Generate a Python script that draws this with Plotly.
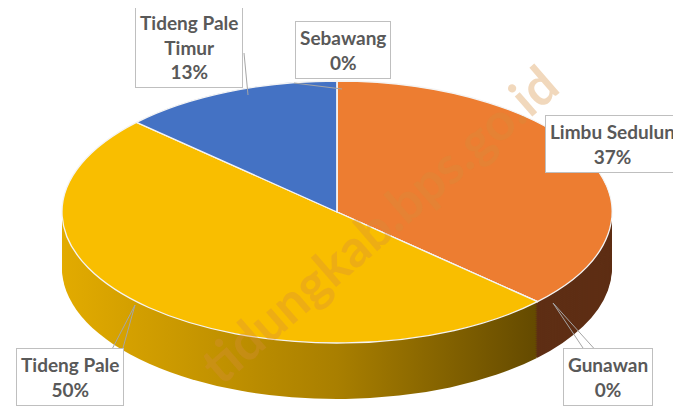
import json
import plotly.graph_objects as go

# ---- data ----
categories = ["Limbu Sedulun", "Gunawan", "Tideng Pale", "Tideng Pale Timur", "Sebawang"]
shares = [37, 0, 50, 13, 0]
share_labels = ["37%", "0%", "50%", "13%", "0%"]
display_names = ["Limbu Sedulun", "Gunawan", "Tideng Pale", "Tideng Pale<br>Timur", "Sebawang"]

# ---- style ----
top_colors = ["#ED7D31", "#A5A5A5", "#F9BE00", "#4472C4", "#5B9BD5"]
side_colors = ["#5E2E14", "#5A5A5A", "#AD8200", "#2B4C85", "#36608A"]
W, H = 681, 406
CX, CY, RX, RY = 329, 204, 275, 131
DEPTH, STEP = 56, 2
FONT = "Lato, Open Sans, sans-serif"

fig = go.Figure()
offsets = list(range(DEPTH, 0, -STEP)) + [0]
for off in offsets:
    top = off == 0
    fig.add_trace(go.Pie(
        labels=categories, values=shares, sort=False, direction="clockwise", rotation=0,
        marker=dict(colors=top_colors if top else side_colors,
                    line=dict(color="#F4F4F4" if top else "rgba(0,0,0,0)", width=1.3 if top else 0)),
        textinfo="none", hoverinfo="label+percent", showlegend=False,
        domain=dict(x=[0, 1], y=[0, 1])))

def px(x, y):
    return x / W, 1 - y / H

annotations = []
wx, wy = px(370, 216)
annotations.append(dict(text="<b>tidungkab.bps.go.id</b>", x=wx, y=wy, xref="paper", yref="paper",
                        showarrow=False, textangle=-41,
                        font=dict(family="Lato, Open Sans, sans-serif", size=52, color="rgba(214,140,60,0.34)")))

centers = {  # index: box centre in pixels
    0: (604, 136),
    1: (600, 369),
    2: (62, 369),
    3: (181, 39),
    4: (335, 42),
}
for i, (cx, cy) in centers.items():
    ax, ay = px(cx, cy)
    annotations.append(dict(
        text=f"<b>{display_names[i]}<br>{share_labels[i]}</b>",
        x=ax, y=ay, xref="paper", yref="paper", xanchor="center", yanchor="middle",
        showarrow=False, align="center",
        borderpad=4, bordercolor="#BFBFBF", borderwidth=1, bgcolor="white",
        font=dict(family=FONT, size=19, color="#595959")))

leaders = [
    (236, 45, 240, 87),
    (286, 75, 334, 81),
    (127, 297, 101, 347),
    (127, 297, 113, 347),
    (545, 295, 579, 346),
    (545, 295, 591, 346),
]
shapes = []
for x0, y0, x1, y1 in leaders:
    a0, b0 = px(x0, y0)
    a1, b1 = px(x1, y1)
    shapes.append(dict(type="line", xref="paper", yref="paper", x0=a0, y0=b0, x1=a1, y1=b1,
                       line=dict(color="#A6A6A6", width=1), layer="above"))

fig.update_layout(width=W, height=H, margin=dict(l=0, r=0, t=0, b=0),
                  paper_bgcolor="white", plot_bgcolor="white",
                  annotations=annotations, shapes=shapes)

js = """
var gd = document.getElementById('{plot_id}');
var OFFS = __OFFS__;
function squash(){
  var traces = gd.querySelectorAll('.pielayer .trace');
  if(!traces.length) return;
  var bb = traces[traces.length-1].getBBox();
  var cx0 = bb.x + bb.width/2, cy0 = bb.y + bb.height/2, R = bb.width/2;
  var sx = __RX__/R, sy = __RY__/R;
  var svg = gd.querySelector('svg.main-svg');
  var defs = svg.querySelector('defs');
  if(!document.getElementById('sidegrad')){
    var ns = 'http://www.w3.org/2000/svg';
    var g = document.createElementNS(ns, 'linearGradient');
    g.setAttribute('id', 'sidegrad');
    g.setAttribute('gradientUnits', 'userSpaceOnUse');
    g.setAttribute('x1', cx0 - R); g.setAttribute('x2', cx0 + R);
    g.setAttribute('y1', 0); g.setAttribute('y2', 0);
    [['0', '#E2AB00'], ['0.5', '#A97F00'], ['1', '#4A3600']].forEach(function(s){
      var st = document.createElementNS(ns, 'stop');
      st.setAttribute('offset', s[0]); st.setAttribute('stop-color', s[1]);
      g.appendChild(st);
    });
    defs.appendChild(g);
  }
  traces.forEach(function(t, i){
    var dy = OFFS[i] || 0;
    t.setAttribute('transform', 'translate(' + __CX__ + ',' + (__CY__ + dy) + ') scale(' + sx + ',' + sy + ') translate(' + (-cx0) + ',' + (-cy0) + ')');
    t.querySelectorAll('path').forEach(function(p){
      p.style.vectorEffect = 'non-scaling-stroke';
      if(p.style.fill === 'rgb(173, 130, 0)') p.style.fill = 'url(#sidegrad)';
    });
  });
}
squash();
gd.on('plotly_afterplot', squash);
"""
js = (js.replace("__OFFS__", json.dumps(offsets)).replace("__RX__", str(RX)).replace("__RY__", str(RY))
        .replace("__CX__", str(CX)).replace("__CY__", str(CY)))

fig.write_html("out.html", post_script=js)
